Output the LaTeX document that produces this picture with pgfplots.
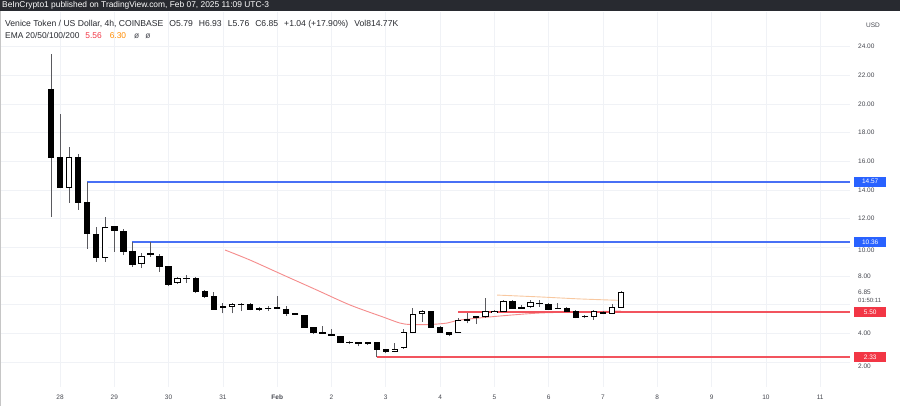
\documentclass[border=0pt]{standalone}
\usepackage{fontspec}
\setmainfont{Liberation Sans}
\usepackage{pgfplots}
\pgfplotsset{compat=1.18}
\usepackage{pgfplotstable}

\definecolor{blueline}{RGB}{72,112,245}
\definecolor{tagblue}{RGB}{41,98,255}
\definecolor{redline}{RGB}{242,84,94}
\definecolor{tagred}{RGB}{242,54,69}
\definecolor{emared}{RGB}{245,140,140}
\definecolor{emaorange}{RGB}{248,200,160}
\definecolor{gridc}{RGB}{240,242,246}
\definecolor{lbl}{RGB}{70,72,80}
\definecolor{wick}{RGB}{90,90,95}
\definecolor{hdr}{RGB}{40,42,48}

\newcommand\fs[1]{\fontsize{#1}{#1}\selectfont}
\newcommand\low[2]{\raisebox{-#1}[\height][\depth]{#2}}

% 4h candles, i = bar index (x = (i-1)/6 days after 28 Jan)
\pgfplotstableread{
i  o     h     l     c
0  21.0  23.5  12.1  16.3
1  16.3  19.3  14.1  14.2
2  14.2  17.0  13.1  16.3
3  16.3  16.5  12.6  13.1
4  13.1  14.57 9.9   11.0
5  10.9  11.4  9.0   9.3
6  9.3   12.1  9.0   11.4
7  11.45 11.5  9.7   11.15
8  11.1  11.25 9.45  9.7
9  9.7   10.36 8.65  8.8
10 8.85  9.6   8.55  9.4
11 9.55  10.36 9.35  9.5
12 9.4   9.5   8.3   8.65
13 8.65  8.7   7.3   7.4
14 7.55  7.95  7.45  7.8
15 7.8   8.1   7.5   7.85
16 7.85  7.95  6.8   6.95
17 6.95  7.0   6.5   6.55
18 6.55  6.9   5.65  5.7
19 5.8   6.1   5.4   5.85
20 5.85  6.1   5.4   6.05
21 6.0   6.15  5.55  6.0
22 6.05  6.1   5.6   5.7
23 5.7   5.85  5.55  5.75
24 5.75  5.9   5.55  5.72
25 5.75  6.6   5.7   5.8
26 5.65  5.9   5.2   5.4
27 5.4   5.45  5.35  5.35
28 5.25  5.3   4.4   4.45
29 4.4   4.45  3.95  4.05
30 4.05  4.5   3.95  4.0
31 3.95  4.3   3.8   3.85
32 3.8   3.85  3.3   3.35
33 3.35  3.5   3.25  3.4
34 3.35  3.4   3.1   3.3
35 3.3   3.4   3.2   3.35
36 3.35  3.4   2.33  2.85
37 2.85  2.9   2.6   2.75
38 2.75  3.3   2.7   2.9
39 3.0   4.3   2.9   4.1
40 4.1   5.8   4.0   5.3
41 5.4   5.65  4.8   5.5
42 5.5   5.55  4.4   4.45
43 4.45  4.5   4.0   4.05
44 4.05  4.1   3.8   3.95
45 4.1   5.05  4.05  4.9
46 4.9   5.45  4.7   5.0
47 5.1   5.2   4.65  5.15
48 5.15  6.45  5.1   5.5
49 5.5   5.6   5.4   5.52
50 5.55  6.3   5.5   6.2
51 6.2   6.3   5.7   5.75
52 5.75  5.95  5.7   5.8
53 5.85  6.3   5.8   6.15
54 6.1   6.35  5.85  6.1
55 6.05  6.1   5.65  5.7
56 5.75  6.1   5.7   5.75
57 5.75  5.85  5.5   5.55
58 5.55  5.6   5.05  5.1
59 5.15  5.25  5.05  5.15
60 5.15  5.6   4.95  5.5
61 5.45  5.55  5.35  5.4
62 5.42  6.05  5.35  5.79
63 5.79  6.93  5.76  6.85
}\candles

\begin{document}
\begin{tikzpicture}[x=1pt,y=1pt]
\useasboundingbox (0,0) rectangle (900,406);
\fill[white] (0,0) rectangle (900,406);

\begin{axis}[
    at={(0pt,19pt)}, anchor=south west,
    scale only axis, width=850pt, height=375pt,
    xmin=-1.105, xmax=14.549, ymin=0.263, ymax=26.40,
    clip=false,
    axis line style={draw=none},
    tick style={draw=none},
    major tick length=0pt,
    xtick={0,...,14},
    xticklabels={28,29,30,31,\textbf{Feb},2,3,4,5,6,7,8,9,10,11},
    ytick={2,4,...,24},
    yticklabels={\low{4pt}{2.00},4.00,{},8.00,\low{3pt}{10.00},12.00,14.00,16.00,18.00,20.00,22.00,24.00},
    yticklabel pos=right,
    yticklabel style={anchor=west, inner sep=0pt, xshift=8pt, font=\fs{6.5}, text=lbl},
    xticklabel style={anchor=north, inner sep=0pt, yshift=-8pt, font=\fs{6.5}, text=lbl},
    grid=major,
    grid style={gridc, line width=0.6pt},
    candle/.style={only marks, mark=*, mark size=0pt,
        mark options={draw opacity=0, fill opacity=0},
        error bars/.cd, y dir=plus, y explicit, error mark=none},
]

% EMA 20 and EMA 50
\addplot[emared, line width=0.9pt, smooth] coordinates {
    (3.04,9.81) (3.50,9.11) (4.11,8.07) (4.73,7.02) (5.34,5.98) (5.95,5.14)
    (6.26,4.72) (6.45,4.62) (6.81,4.62) (7.13,4.72) (7.37,4.93) (8.10,5.21)
    (8.84,5.42) (9.58,5.49) (10.33,5.56)
};
\addplot[emaorange, line width=0.9pt, smooth] coordinates {
    (8.05,6.67) (8.84,6.54) (9.58,6.40) (10.33,6.30)
};

% support / resistance levels
\addplot[blueline, line width=1.6pt] coordinates {(0.5,14.57) (14.549,14.57)};
\addplot[blueline, line width=1.6pt] coordinates {(1.333,10.36) (14.549,10.36)};
\addplot[redline, line width=1.8pt] coordinates {(7.333,5.50) (14.549,5.50)};
\addplot[redline, line width=1.8pt] coordinates {(5.833,2.33) (14.549,2.33)};

% wicks
\addplot[candle, error bar style={line width=0.9pt, wick}]
    table[x expr=(\thisrow{i}-1)/6, y=l, y error plus expr=\thisrow{h}-\thisrow{l}] {\candles};
% bodies
\addplot[candle, error bar style={line width=6.4pt, black}]
    table[x expr=(\thisrow{i}-1)/6, y expr={min(\thisrow{o},\thisrow{c})},
          y error plus expr={abs(\thisrow{o}-\thisrow{c})}] {\candles};
% hollow inside of rising candles
\addplot[candle, error bar style={line width=4.8pt, white}]
    table[x expr=(\thisrow{i}-1)/6, y=o,
          y error plus expr={max(\thisrow{c}-\thisrow{o},0)}] {\candles};
% body edges
\addplot[only marks, mark=-, mark size=3.2pt, mark options={line width=0.8pt, black}]
    table[x expr=(\thisrow{i}-1)/6, y=o] {\candles};
\addplot[only marks, mark=-, mark size=3.2pt, mark options={line width=0.8pt, black}]
    table[x expr=(\thisrow{i}-1)/6, y=c] {\candles};

% price tags on the scale
\tikzset{tag/.style={anchor=west, inner sep=0pt, minimum width=32pt, minimum height=10pt,
    text=white, font=\fs{6.5}}}
\node[tag, fill=tagblue] at (axis cs:14.549,14.57) [xshift=4pt] {14.57};
\node[tag, fill=tagblue] at (axis cs:14.549,10.36) [xshift=4pt] {10.36};
\node[tag, fill=tagred]  at (axis cs:14.549,5.50)  [xshift=4pt] {5.50};
\node[tag, fill=tagred]  at (axis cs:14.549,2.33)  [xshift=4pt] {2.33};
\node[anchor=west, inner sep=0pt, font=\fs{6.5}, text=lbl] at (axis cs:14.549,6.88) [xshift=8pt] {6.85};
\node[anchor=west, inner sep=0pt, font=\fs{6}, text=lbl] at (axis cs:14.549,6.28) [xshift=8pt] {01:50:11};
\end{axis}

% header band and legend
\fill[hdr] (0,395) rectangle (900,406);
\node[anchor=west, inner sep=0pt, text=white, font=\fs{8.4}] at (2,400.5)
    {BeInCrypto1 published on TradingView.com, Feb 07, 2025 11:09 UTC-3};
\node[anchor=west, inner sep=0pt, text=hdr, font=\fs{8.6}] at (5,381.5)
    {Venice Token / US Dollar, 4h, COINBASE\hspace{6pt}O5.79\hspace{6pt}H6.93\hspace{6pt}L5.76\hspace{6pt}C6.85\hspace{6pt}+1.04 (+17.90\%)\hspace{6pt}Vol814.77K};
\node[anchor=west, inner sep=0pt, text=hdr, font=\fs{8.4}] at (5,370.5)
    {EMA 20/50/100/200\hspace{6pt}\textcolor{tagred}{5.56}\hspace{8pt}\textcolor{orange!90!yellow}{6.30}\hspace{8pt}\textcolor{lbl}{ø\hspace{6pt}ø}};
\node[anchor=center, inner sep=0pt, text=lbl, font=\fs{6.5}] at (873,381) {USD};
\draw[gray!45, line width=0.8pt] (0.5,0) -- (0.5,395);
\end{tikzpicture}
\end{document}
